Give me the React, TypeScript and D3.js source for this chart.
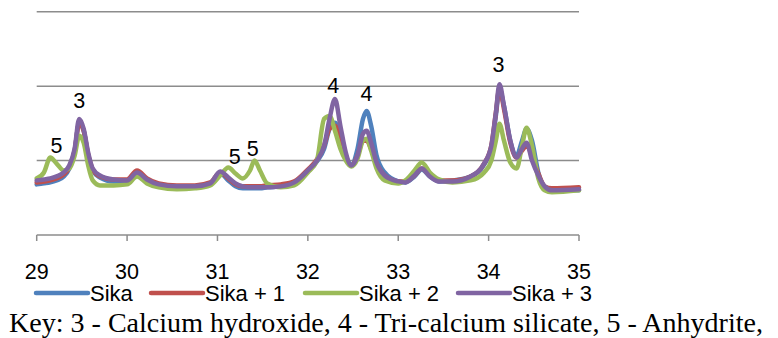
import React from "react";
import * as d3 from "d3";

// 2-theta grid (degrees) shared by all patterns
const twoTheta = [
  29.0, 29.08, 29.15, 29.22, 29.3, 29.36, 29.42, 29.47, 29.52, 29.57, 29.62, 29.7, 29.85,
  30.0, 30.11, 30.22, 30.35, 30.55, 30.75, 30.92, 31.03, 31.12, 31.2, 31.28, 31.36, 31.41,
  31.47, 31.55, 31.7, 31.85, 32.0, 32.1, 32.18, 32.24, 32.3, 32.36, 32.42, 32.48, 32.55,
  32.61, 32.65, 32.7, 32.76, 32.85, 33.0, 33.08, 33.18, 33.26, 33.35, 33.45, 33.6, 33.8,
  33.95, 34.03, 34.08, 34.12, 34.17, 34.24, 34.31, 34.37, 34.42, 34.48, 34.55, 34.62,
  34.7, 35.0,
];

const sika = [
  510, 520, 530, 550, 590, 670, 850, 1130, 1050, 800, 650, 580, 540, 540, 620, 550, 500,
  480, 480, 510, 620, 550, 490, 470, 470, 470, 470, 480, 490, 520, 640, 740, 870, 1070,
  1130, 1000, 800, 710, 870, 1170, 1250, 1100, 800, 630, 540, 530, 590, 660, 590, 540,
  550, 590, 710, 880, 1200, 1470, 1300, 950, 800, 950, 1070, 950, 630, 480, 450, 450,
];
const sika1 = [
  530, 540, 550, 570, 610, 680, 850, 1130, 1050, 810, 660, 590, 560, 560, 650, 570, 520,
  500, 500, 530, 630, 570, 510, 490, 490, 490, 490, 500, 510, 540, 660, 760, 900, 1070,
  1100, 950, 770, 700, 800, 950, 950, 870, 720, 600, 540, 540, 600, 670, 600, 550, 550,
  590, 720, 900, 1230, 1480, 1270, 930, 780, 850, 900, 800, 620, 490, 470, 480,
];
const sika2 = [
  570, 630, 780, 720, 650, 670, 800, 1000, 930, 700, 550, 500, 500, 510, 590, 520, 480,
  460, 470, 500, 600, 680, 620, 570, 650, 750, 650, 520, 480, 500, 630, 750, 1170, 1200,
  1050, 870, 750, 690, 770, 950, 970, 850, 670, 550, 520, 550, 650, 730, 630, 560, 530,
  550, 630, 750, 950, 1120, 950, 730, 670, 900, 1080, 900, 570, 450, 430, 450,
];
const sika3 = [
  550, 560, 570, 590, 630, 700, 870, 1170, 1070, 830, 670, 600, 560, 550, 630, 560, 510,
  490, 490, 520, 640, 580, 520, 490, 480, 480, 480, 480, 490, 530, 650, 750, 900, 1170,
  1370, 1100, 830, 700, 800, 1020, 1050, 930, 730, 600, 540, 530, 600, 670, 590, 540, 540,
  590, 720, 900, 1230, 1520, 1300, 950, 780, 870, 930, 750, 600, 490, 450, 460,
];

const seriesNames = ["Sika", "Sika + 1", "Sika + 2", "Sika + 3"];
const seriesValues = [sika, sika1, sika2, sika3];
const colors = ["#4F81BD", "#C0504D", "#9BBB59", "#8064A2"];

const xTicks = [29, 30, 31, 32, 33, 34, 35];
const yGrid = [750, 1500, 2250];

// peak markers: 2theta, height, phase number
const peakTheta = [29.22, 29.47, 31.19, 31.39, 32.28, 32.65, 34.11];
const peakHeight = [830, 1280, 720, 800, 1430, 1350, 1640];
const peakLabel = ["5", "3", "5", "5", "4", "4", "3"];

const keyText = "Key: 3 - Calcium hydroxide, 4 - Tri-calcium silicate, 5 - Anhydrite,";

export default function App() {
  const x = d3.scaleLinear().domain([29, 35]).range([36.7, 579]);
  const y = d3.scaleLinear().domain([0, 2250]).range([235, 11.7]);

  const line = d3
    .line<number>()
    .x((_, i) => x(twoTheta[i]))
    .y((d) => y(d))
    .curve(d3.curveMonotoneX);

  // legend line starts
  const legendX = [36, 151, 305, 458];
  const sans = "'Liberation Sans', Arial, sans-serif";

  return (
    <svg
      width={778}
      height={338}
      style={{ position: "absolute", left: 0, top: 0, background: "#fff" }}
    >
      {yGrid.map((g) => (
        <line
          key={g}
          x1={x(29)}
          x2={x(35)}
          y1={y(g)}
          y2={y(g)}
          stroke="#8c8c8c"
          strokeWidth={1.5}
        />
      ))}
      <line x1={x(29)} x2={x(35)} y1={y(0)} y2={y(0)} stroke="#8c8c8c" strokeWidth={1.5} />
      {xTicks.map((t) => (
        <g key={t}>
          <line x1={x(t)} x2={x(t)} y1={y(0)} y2={y(0) + 6} stroke="#8c8c8c" strokeWidth={1.5} />
          <text
            x={x(t)}
            y={279}
            textAnchor="middle"
            fontFamily={sans}
            fontSize={21.5}
            fill="#000"
          >
            {t}
          </text>
        </g>
      ))}

      {seriesValues.map((vals, i) => (
        <path
          key={seriesNames[i]}
          d={line(vals) || ""}
          fill="none"
          stroke={colors[i]}
          strokeWidth={4.5}
          strokeLinejoin="round"
          strokeLinecap="round"
        />
      ))}

      {peakTheta.map((t, i) => (
        <text
          key={i}
          x={x(t)}
          y={y(peakHeight[i])}
          textAnchor="middle"
          fontFamily={sans}
          fontSize={21.5}
          fill="#000"
        >
          {peakLabel[i]}
        </text>
      ))}

      {seriesNames.map((name, i) => (
        <g key={name}>
          <line
            x1={legendX[i]}
            x2={legendX[i] + 52}
            y1={293}
            y2={293}
            stroke={colors[i]}
            strokeWidth={4.5}
            strokeLinecap="round"
          />
          <text x={legendX[i] + 54} y={301} fontFamily={sans} fontSize={22} fill="#000">
            {name}
          </text>
        </g>
      ))}

      <text
        x={9}
        y={332}
        fontFamily="'Liberation Serif', 'Times New Roman', serif"
        fontSize={27}
        textLength={754}
        lengthAdjust="spacingAndGlyphs"
        fill="#000"
      >
        {keyText}
      </text>
    </svg>
  );
}
